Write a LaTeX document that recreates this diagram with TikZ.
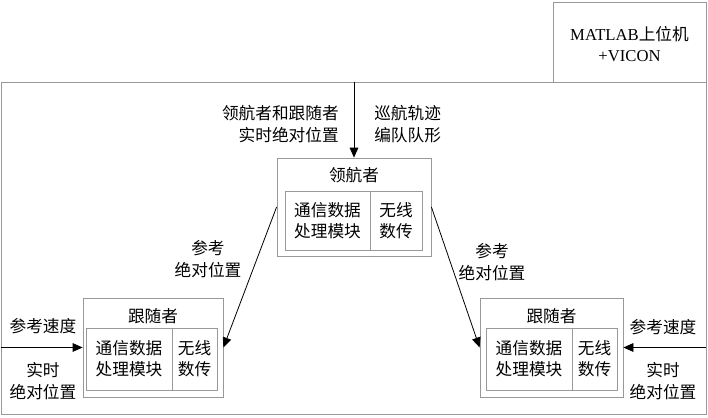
\documentclass[tikz,border=0pt]{standalone}
\usepackage{fontspec}
\setmainfont{Noto Sans CJK SC}
\newfontfamily\latinfont{Liberation Serif}
\usepackage{tikz}
\usetikzlibrary{arrows.meta}

\tikzset{
  box/.style={draw=black!40, line width=0.6pt, inner sep=0pt},
  txt/.style={inner sep=0.75pt, align=center, font=\fontsize{12.5pt}{16pt}\selectfont},
  arr/.style={draw=black, line width=0.6pt, -{Triangle[length=7.5pt,width=6.5pt]}}
}

\begin{document}
\begin{tikzpicture}[x=0.75pt,y=0.75pt,yscale=-1]
        \useasboundingbox (0,0) rectangle (708,418);
        
        %Shape: Rectangle [frame]
        \node [box, minimum width=528.75pt, minimum height=249pt] (frame) at (353.5,248) {};
        %Shape: Rectangle [host]
        \node [box, minimum width=114.75pt, minimum height=60pt] (matlab) at (629.5,42) {};
        \node [txt] (matlabtxt) at (629.5,44) {{\latinfont MATLAB}上位机\\{\latinfont +VICON}};
        
        %Leader
        \node [box, minimum width=115.5pt, minimum height=73.5pt] (leader) at (354,207) {};
        \node [txt] (leadertitle) at (354,175) {领航者};
        \node [box, txt, minimum width=63.75pt, minimum height=44.25pt] (leadproc) at (327.5,220.5) {通信数据\\处理模块};
        \node [box, txt, minimum width=39pt, minimum height=44.25pt] (leadradio) at (396,220.5) {无线\\数传};
        
        %Follower, left
        \node [box, minimum width=105pt, minimum height=74.25pt] (lf) at (153,347.5) {};
        \node [txt] (lftitle) at (153,316) {跟随者};
        \node [box, txt, minimum width=64.5pt, minimum height=46.5pt] (lfproc) at (129,359) {通信数据\\处理模块};
        \node [box, txt, minimum width=33.75pt, minimum height=46.5pt] (lfradio) at (194.5,359) {无线\\数传};
        
        %Follower, right
        \node [box, minimum width=107.25pt, minimum height=74.25pt] (rf) at (551.5,347.5) {};
        \node [txt] (rftitle) at (551.5,316) {跟随者};
        \node [box, txt, minimum width=64.5pt, minimum height=46.5pt] (rfproc) at (529,359) {通信数据\\处理模块};
        \node [box, txt, minimum width=33.75pt, minimum height=46.5pt] (rfradio) at (594.5,359) {无线\\数传};
        
        %Arrows
        \draw [arr] (leader.north |- frame.north) -- (leader.north);
        \draw [arr] (leader.west) -- (lf.east);
        \draw [arr] (leader.east) -- (rf.west);
        \draw [arr] (frame.west |- lf.west) -- (lf.west);
        \draw [arr] (frame.east |- rf.east) -- (rf.east);
        
        % Text Node
        \node [txt, anchor=east, align=right] (toplabl) at (340,124) {领航者和跟随者\\实时绝对位置};
        \node [txt, anchor=west, align=left] (toplabr) at (373,124) {巡航轨迹\\编队队形};
        \node [txt] (leftref) at (208,259) {参考\\绝对位置};
        \node [txt] (rightref) at (492,262) {参考\\绝对位置};
        \node [txt] (lspeed) at (43,326) {参考速度};
        \node [txt] (lpos) at (43,381) {实时\\绝对位置};
        \node [txt] (rspeed) at (663,327) {参考速度};
        \node [txt] (rpos) at (663,381) {实时\\绝对位置};
        
\end{tikzpicture}
\end{document}
